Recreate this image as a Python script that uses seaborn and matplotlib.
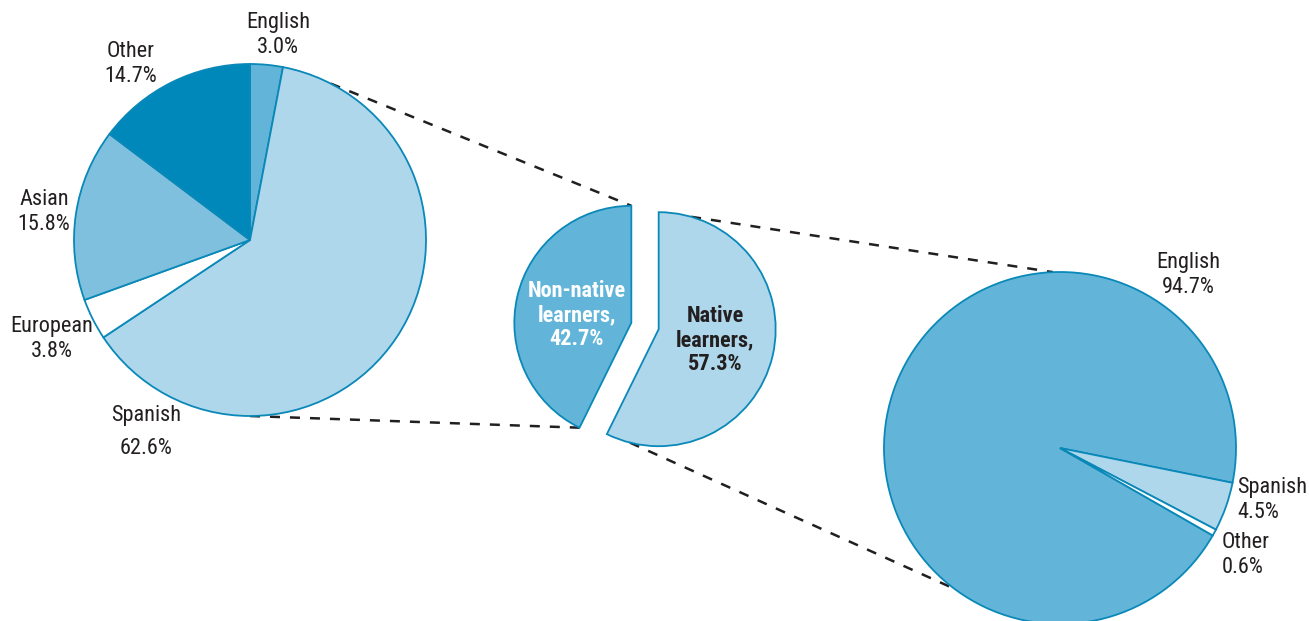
import numpy as np
import matplotlib.pyplot as plt
import seaborn as sns

# shares (%)
nonnative_labels = ["English", "Spanish", "European", "Asian", "Other"]
nonnative_values = [3.0, 62.6, 3.8, 15.8, 14.7]

split_labels = ["Native learners", "Non-native learners"]
split_values = [57.3, 42.7]

native_labels = ["English", "Spanish", "Other"]
native_values = [94.7, 4.5, 0.6]

sns.set_theme(style="white")
plt.rcParams["font.family"] = ["Roboto Condensed", "Archivo Narrow", "DejaVu Sans"]

W, H = 1309, 621
edge = "#0a88b8"
dark = "#231f20"
pal = {
    "English": "#62b5d9",
    "Spanish": "#aed7eb",
    "European": "#ffffff",
    "Asian": "#7fc0df",
    "Other": "#0088bb",
}

fig = plt.figure(figsize=(W / 100, H / 100), dpi=100)
ax = fig.add_axes([0, 0, 1, 1])

wp = dict(edgecolor=edge, linewidth=1.3)

# left pie: languages of non-native learners
c_left, r_left = (250, H - 240), 176
ax.pie(nonnative_values, colors=[pal[k] for k in nonnative_labels],
       startangle=90, counterclock=False, center=c_left, radius=r_left,
       wedgeprops=wp)

# middle pie: native vs non-native
c_mid, r_mid = (645, H - 326), 117
mid_w, _ = ax.pie(split_values, colors=[pal["Spanish"], pal["English"]],
                  startangle=90, counterclock=False, center=c_mid, radius=r_mid,
                  explode=[0.12 * r_mid, 0.12 * r_mid], wedgeprops=wp)

# right pie: languages of native learners
c_right, r_right = (1060, H - 448), 176
ax.pie(native_values, colors=[pal["English"], pal["Spanish"], "#ffffff"],
       startangle=330.2, counterclock=False, center=c_right, radius=r_right,
       wedgeprops=wp)


def on_circle(c, r, deg):
    a = np.deg2rad(deg)
    return c[0] + r * np.cos(a), c[1] + r * np.sin(a)


native_w, nonnative_w = mid_w
ls = dict(color=dark, lw=1.8, ls=(0, (4, 4)), zorder=0)
for (c1, r1, a1), (c2, r2, a2) in [
    ((c_left, r_left, 62.7), (nonnative_w.center, r_mid, 90)),
    ((c_left, r_left, -90), (nonnative_w.center, r_mid, -116.3)),
    ((native_w.center, r_mid, 73.9), (c_right, r_right, 92.3)),
    ((native_w.center, r_mid, -104.2), (c_right, r_right, -126.9)),
]:
    p1, p2 = on_circle(c1, r1, a1), on_circle(c2, r2, a2)
    ax.plot([p1[0], p2[0]], [p1[1], p2[1]], **ls)

fs = 16
tk = dict(fontsize=fs, color=dark, ha="center", va="center", linespacing=1.25)
for i, (x, y) in enumerate([(278, 35), (146, 416), (52, 339), (44, 212), (131, 64)]):
    name = nonnative_labels[i]
    val = f"{nonnative_values[i]:.1f}%"
    if name == "Spanish":
        ax.text(x, H - y, name, **tk)
        ax.text(x, H - 448, val, **tk)
    else:
        ax.text(x, H - y, f"{name}\n{val}", **tk)

ax.text(577, H - 315, f"Non-native\nlearners,\n{split_values[1]:.1f}%",
        fontsize=fs, color="white", fontweight="bold", ha="center", va="center",
        linespacing=1.12)
ax.text(715, H - 340, f"Native\nlearners,\n{split_values[0]:.1f}%",
        fontsize=fs, color=dark, fontweight="bold", ha="center", va="center",
        linespacing=1.12)

ax.text(1188, H - 275, f"{native_labels[0]}\n{native_values[0]:.1f}%", **tk)
tl = dict(tk, ha="left")
ax.text(1237, H - 500, f"{native_labels[1]}\n{native_values[1]:.1f}%", **tl)
ax.text(1222, H - 555, f"{native_labels[2]}\n{native_values[2]:.1f}%", **tl)

ax.set_xlim(0, W)
ax.set_ylim(0, H)
ax.set_aspect("equal")
ax.axis("off")
fig.savefig("out.png", dpi=100)
